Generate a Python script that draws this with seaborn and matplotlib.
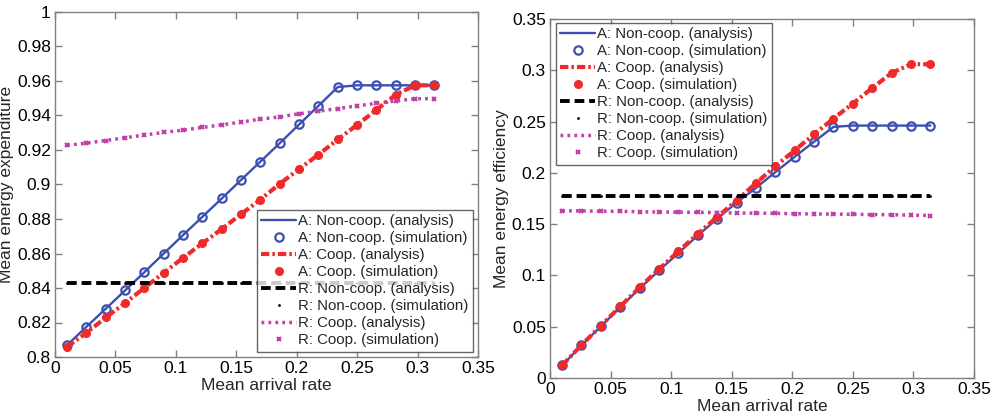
import matplotlib
matplotlib.use("Agg")
import matplotlib.pyplot as plt
import seaborn as sns
import numpy as np

sns.set_theme(style="white")
plt.rcParams["font.family"] = ["Liberation Sans", "DejaVu Sans"]
plt.rcParams["lines.scale_dashes"] = False

# Mean arrival rate (shared x values for both panels)
arrival_rate = [0.010, 0.026, 0.042, 0.058, 0.074, 0.090, 0.106, 0.122, 0.138, 0.154,
                0.170, 0.186, 0.202, 0.218, 0.234, 0.250, 0.266, 0.282, 0.298, 0.314]

# Left panel: mean energy expenditure
exp_a_noncoop = [0.8069, 0.8175, 0.8280, 0.8386, 0.8492, 0.8600, 0.8707, 0.8813, 0.8919, 0.9027,
                 0.9133, 0.9240, 0.9348, 0.9456, 0.9565, 0.9575, 0.9575, 0.9575, 0.9575, 0.9575]
exp_a_coop = [0.8059, 0.8140, 0.8229, 0.8313, 0.8401, 0.8488, 0.8575, 0.8659, 0.8742, 0.8828,
              0.8913, 0.9004, 0.9090, 0.9173, 0.9261, 0.9346, 0.9433, 0.9521, 0.9575, 0.9575]
exp_r_noncoop = [0.8431] * 20
exp_r_coop = [0.9227, 0.9240, 0.9255, 0.9271, 0.9287, 0.9302, 0.9315, 0.9331, 0.9346, 0.9362,
              0.9379, 0.9392, 0.9410, 0.9425, 0.9440, 0.9456, 0.9471, 0.9485, 0.9497, 0.9498]

# Right panel: mean energy efficiency
eff_a_noncoop = [0.0123, 0.0318, 0.0503, 0.0692, 0.0873, 0.1049, 0.1218, 0.1390, 0.1552, 0.1711,
                 0.1853, 0.2007, 0.2157, 0.2304, 0.2448, 0.2461, 0.2461, 0.2461, 0.2461, 0.2461]
eff_a_coop = [0.0123, 0.0321, 0.0510, 0.0698, 0.0883, 0.1062, 0.1234, 0.1406, 0.1570, 0.1730,
              0.1899, 0.2065, 0.2219, 0.2376, 0.2529, 0.2676, 0.2827, 0.2974, 0.3059, 0.3059]
eff_r_noncoop = [0.1778] * 20
eff_r_coop = [0.1630, 0.1629, 0.1626, 0.1625, 0.1621, 0.1618, 0.1617, 0.1614, 0.1613, 0.1608,
              0.1607, 0.1605, 0.1602, 0.1599, 0.1598, 0.1596, 0.1593, 0.1592, 0.1587, 0.1584]

legend_labels = ["A: Non-coop. (analysis)", "A: Non-coop. (simulation)",
                 "A: Coop. (analysis)", "A: Coop. (simulation)",
                 "R: Non-coop. (analysis)", "R: Non-coop. (simulation)",
                 "R: Coop. (analysis)", "R: Coop. (simulation)"]

BLUE = "#3b50b0"
RED = "#f02a2a"
BLACK = "#000000"
MAGENTA = "#c040a8"
GRAY = "#808080"


def draw_panel(ax, a_non, a_coop, r_non, r_coop):
    x = np.array(arrival_rate)
    sns.lineplot(x=x, y=a_non, ax=ax, color=BLUE, lw=1.7, label=legend_labels[0])
    ax.plot(x, a_non, ls="none", marker="o", ms=6, mfc="none", mec=BLUE, mew=1.6,
            label=legend_labels[1])
    sns.lineplot(x=x, y=a_coop, ax=ax, color=RED, lw=3, label=legend_labels[2])
    ax.lines[-1].set_dashes([6, 2.2, 1.8, 2.2])
    ax.plot(x, a_coop, ls="none", marker="o", ms=5.5, mfc=RED, mec=RED,
            label=legend_labels[3])
    sns.lineplot(x=x, y=r_non, ax=ax, color=BLACK, lw=2.8, label=legend_labels[4])
    ax.lines[-1].set_dashes([7, 3.5])
    ax.plot(x, r_non, ls="none", marker=".", ms=2, color=BLACK,
            label=legend_labels[5])
    sns.lineplot(x=x, y=r_coop, ax=ax, color=MAGENTA, lw=2.5, label=legend_labels[6])
    ax.lines[-1].set_dashes([2, 3])
    ax.plot(x, r_coop, ls="none", marker="x", ms=3.5, mew=1.5, color=MAGENTA,
            label=legend_labels[7])

    ax.set_xlim(0, 0.35)
    ax.set_xticks(np.arange(0, 0.351, 0.05))
    ax.set_xticklabels(["0", "0.05", "0.1", "0.15", "0.2", "0.25", "0.3", "0.35"])
    for s in ax.spines.values():
        s.set_color(GRAY)
        s.set_linewidth(1.0)
    ax.tick_params(direction="in", length=5, width=1, color=GRAY, labelsize=12.5,
                   top=True, right=True, bottom=True, left=True, pad=3,
                   labelcolor="black")
    ax.set_xlabel("Mean arrival rate", fontsize=12.5, labelpad=1)


def style_legend(ax, **kw):
    leg = ax.legend(fontsize=10.8, frameon=True, fancybox=False,
                    edgecolor="#404040", handlelength=2.3, handletextpad=0.15,
                    labelspacing=0.2, borderpad=0.3, borderaxespad=0.0, **kw)
    leg.get_frame().set_linewidth(1.0)
    return leg


fig = plt.figure(figsize=(9.91, 4.16), dpi=100)
fig.patch.set_facecolor("white")

ax1 = fig.add_axes([55 / 991, 59 / 416, 423 / 991, 345 / 416])
draw_panel(ax1, exp_a_noncoop, exp_a_coop, exp_r_noncoop, exp_r_coop)
ax1.set_ylim(0.8, 1.0)
ax1.set_yticks(np.arange(0.8, 1.0001, 0.02))
ax1.set_yticklabels(["0.8", "0.82", "0.84", "0.86", "0.88", "0.9", "0.92", "0.94",
                     "0.96", "0.98", "1"])
ax1.set_ylabel("Mean energy expenditure", fontsize=12.5, labelpad=2)
style_legend(ax1, loc="lower right", bbox_to_anchor=(0.988, 0.0145))

ax2 = fig.add_axes([550 / 991, 38 / 416, 424 / 991, 359 / 416])
draw_panel(ax2, eff_a_noncoop, eff_a_coop, eff_r_noncoop, eff_r_coop)
ax2.set_ylim(0, 0.35)
ax2.set_yticks(np.arange(0, 0.351, 0.05))
ax2.set_yticklabels(["0", "0.05", "0.1", "0.15", "0.2", "0.25", "0.3", "0.35"])
ax2.set_ylabel("Mean energy efficiency", fontsize=12.5, labelpad=2)
style_legend(ax2, loc="upper left", bbox_to_anchor=(0.014, 0.989))

fig.savefig("out.png", dpi=100, facecolor="white")
